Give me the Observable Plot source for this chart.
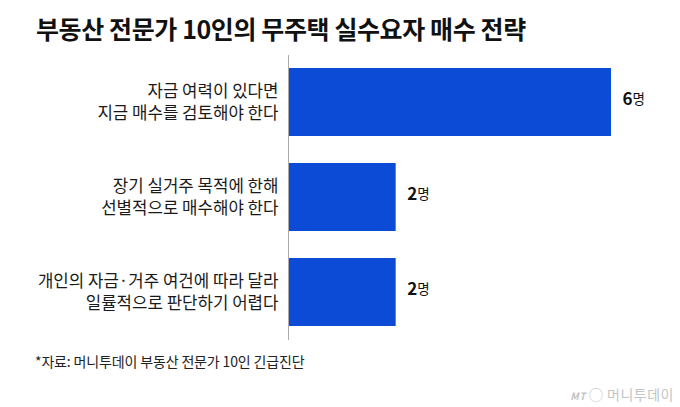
<!DOCTYPE html>
<html>
<head>
<meta charset="utf-8">
<script src="https://cdn.jsdelivr.net/npm/d3@7"></script>
<script src="https://cdn.jsdelivr.net/npm/@observablehq/plot@0.6"></script>
<style>
  html, body { margin: 0; padding: 0; background: #fff; }
  body { width: 680px; height: 407px; position: relative; overflow: hidden; font-family: "Noto Sans CJK KR", "Noto Sans", sans-serif; }
  #title { position: absolute; left: 36px; top: 10px; font-size: 25px; font-weight: 700; letter-spacing: -0.4px; color: #111; white-space: nowrap; }
  #chart { position: absolute; left: 0; top: 52px; }
  #caption { position: absolute; left: 35px; top: 351px; font-size: 14px; letter-spacing: -0.15px; color: #222; white-space: nowrap; }
  #logo { position: absolute; right: 6px; top: 384px; font-size: 14px; color: #c4c4c4; white-space: nowrap; letter-spacing: 0.5px; }
  #logo i { font-size: 10px; font-weight: 700; margin-right: 3px; }
</style>
</head>
<body>
<div id="title"></div>
<div id="chart"></div>
<div id="caption"></div>
<div id="logo"><i>MT</i>◯ 머니투데이</div>
<script>
const titleText = "부동산 전문가 10인의 무주택 실수요자 매수 전략";
const captionText = "*자료: 머니투데이 부동산 전문가 10인 긴급진단";
const categories = [
  "자금 여력이 있다면\n지금 매수를 검토해야 한다",
  "장기 실거주 목적에 한해\n선별적으로 매수해야 한다",
  "개인의 자금·거주 여건에 따라 달라\n일률적으로 판단하기 어렵다"
];
const counts = [6, 2, 2];
const unit = "명";

document.getElementById("title").textContent = titleText;
document.getElementById("caption").textContent = captionText;

const data = categories.map((c, i) => ({category: c, value: counts[i]}));

const chart = Plot.plot({
  width: 680,
  height: 290,
  marginTop: 3,
  marginBottom: 2,
  marginLeft: 288,
  marginRight: 69,
  style: {fontFamily: "'Noto Sans CJK KR', sans-serif", background: "transparent"},
  x: {domain: [0, 6], range: [288, 611], axis: null},
  y: {domain: categories, range: [16, 275], paddingInner: 0.28, paddingOuter: 0, axis: null},
  marks: [
    Plot.barX(data, {x: "value", y: "category", fill: "#0b4bd6"}),
    Plot.ruleX([0], {stroke: "#aaaaaa", strokeWidth: 1}),
    Plot.text(data, {
      x: 0, y: "category", text: "category", textAnchor: "end", dx: -10, dy: -2,
      fontSize: 16.8, lineHeight: 1.31, fill: "#1a1a1a"
    }),
    Plot.text(data, {
      x: "value", y: "category", text: d => String(d.value), textAnchor: "start",
      dx: 11, dy: -3, fontSize: 17, fontWeight: 700, fill: "#111"
    }),
    Plot.text(data, {
      x: "value", y: "category", text: () => unit, textAnchor: "start",
      dx: 21, dy: -3, fontSize: 13.5, fill: "#111"
    })
  ]
});
document.getElementById("chart").appendChild(chart);
</script>
</body>
</html>
